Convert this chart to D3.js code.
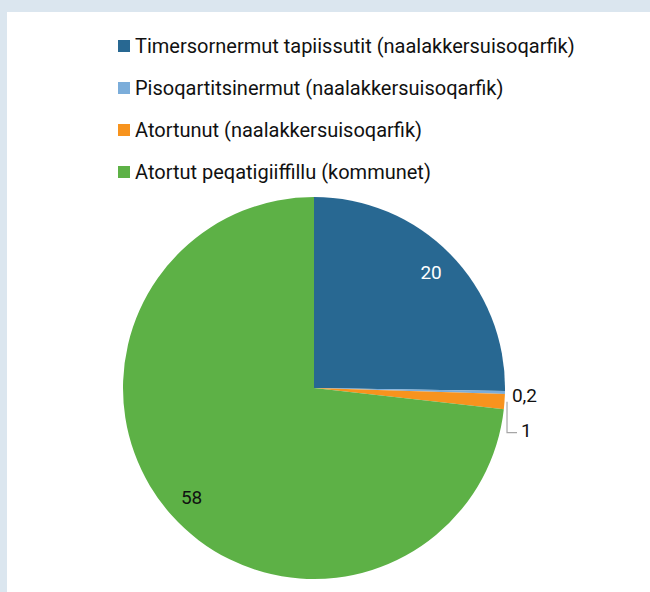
<!DOCTYPE html>
<html>
<head>
<meta charset="utf-8">
<script src="https://cdn.jsdelivr.net/npm/d3@7"></script>
<style>
    html, body { margin: 0; padding: 0; background: #dbe6ef; }
    #chart { position: absolute; left: 7px; top: 12px; width: 643px; height: 580px; background: #ffffff; }
    svg { display: block; font-family: Roboto, "Noto Sans", sans-serif; }
</style>
</head>
<body>
<div id="chart"></div>
<script>
// Chart data
const categories = [
    'Timersornermut tapiissutit (naalakkersuisoqarfik)',
    'Pisoqartitsinermut (naalakkersuisoqarfik)',
    'Atortunut (naalakkersuisoqarfik)',
    'Atortut peqatigiiffillu (kommunet)'
];
const values = [20, 0.2, 1, 58];
const valueLabels = ['20', '0,2', '1', '58'];
const colors = ['#286892', '#7badda', '#f7931e', '#5db146'];

drawPie();

function drawPie() {
    const width = 643;
    const height = 580;
    const radius = 191;
    const cx = 307;   // page x 314
    const cy = 376;   // page y 388

    const svg = d3.select('#chart')
        .append('svg')
        .attr('width', width)
        .attr('height', height);

    // Legend
    const legend = svg.append('g')
        .attr('transform', 'translate(111, 34)');

    const rows = legend.selectAll('g')
        .data(categories)
        .enter()
        .append('g')
        .attr('transform', (d, i) => `translate(0, ${i * 42})`);

    rows.append('rect')
        .attr('x', 0)
        .attr('y', -6)
        .attr('width', 12)
        .attr('height', 12)
        .attr('fill', (d, i) => colors[i]);

    rows.append('text')
        .attr('x', 17)
        .attr('y', 0)
        .attr('dy', '0.35em')
        .style('font-size', '20px')
        .style('fill', '#111111')
        .text(d => d);

    // Pie
    const data = values.map((v, i) => ({ name: categories[i], value: v, label: valueLabels[i], color: colors[i] }));

    const pie = d3.pie()
        .value(d => d.value)
        .sort(null);

    const arc = d3.arc()
        .innerRadius(0)
        .outerRadius(radius);

    const labelArc = d3.arc()
        .innerRadius(radius * 0.86)
        .outerRadius(radius * 0.86);

    const g = svg.append('g')
        .attr('transform', `translate(${cx}, ${cy})`);

    const arcs = pie(data);

    g.selectAll('path')
        .data(arcs)
        .enter()
        .append('path')
        .attr('d', arc)
        .attr('fill', d => d.data.color);

    // Inside labels for the big slices
    g.selectAll('.inside-label')
        .data(arcs.filter(d => d.data.value >= 5))
        .enter()
        .append('text')
        .attr('class', 'inside-label')
        .attr('transform', d => `translate(${labelArc.centroid(d)})`)
        .attr('text-anchor', 'middle')
        .attr('dy', '0.35em')
        .style('font-size', '19px')
        .style('fill', d => d.index === 0 ? '#ffffff' : '#111111')
        .text(d => d.data.label);

    // Outside labels for the small slices
    const small = arcs.filter(d => d.data.value < 5);
    const edge = d => {
        const a = (d.startAngle + d.endAngle) / 2;
        return [Math.sin(a) * radius, -Math.cos(a) * radius];
    };

    // 0,2 sits right beside its slice
    const first = small[0];
    const p0 = edge(first);
    g.append('text')
        .attr('x', p0[0] + 7)
        .attr('y', p0[1] + 3)
        .attr('dy', '0.35em')
        .style('font-size', '19px')
        .style('fill', '#111111')
        .text(first.data.label);

    // 1 gets a leader line
    const second = small[1];
    const p1 = edge(second);
    const lx = p1[0] + 2.5;
    const ly = p1[1] + 31;
    g.append('path')
        .attr('d', `M${lx},${p1[1]}V${ly}H${lx + 10}`)
        .attr('fill', 'none')
        .attr('stroke', '#a6a6a6')
        .attr('stroke-width', 1.2);

    g.append('text')
        .attr('x', lx + 14)
        .attr('y', ly - 2)
        .attr('dy', '0.35em')
        .style('font-size', '19px')
        .style('fill', '#111111')
        .text(second.data.label);
}
</script>
</body>
</html>
